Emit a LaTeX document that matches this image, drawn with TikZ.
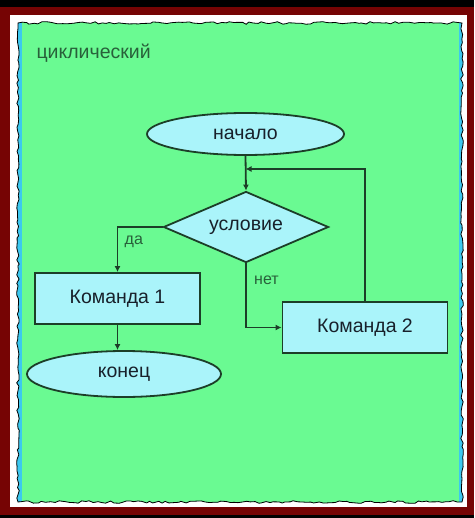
\documentclass[tikz,border=0pt]{standalone}
\usepackage{fontspec}
\setmainfont{Liberation Sans}
\usepackage{tikz}
\usetikzlibrary{calc}
\usetikzlibrary{arrows.meta}
\usetikzlibrary{shapes.geometric}
\usetikzlibrary{decorations.pathmorphing}

\definecolor{frame}{RGB}{118,4,4}
\definecolor{paper}{RGB}{106,250,146}
\definecolor{rim}{RGB}{60,200,240}
\definecolor{block}{RGB}{170,244,250}
\definecolor{wire}{RGB}{28,62,40}
\definecolor{ink}{RGB}{24,32,42}
\definecolor{note}{RGB}{40,96,58}

\tikzset{
  term/.style={ellipse, draw=wire, fill=block, line width=1.8pt, inner sep=0pt,
    text=ink, font=\fontsize{19.5}{22}\selectfont},
  cmd/.style={rectangle, draw=wire, fill=block, line width=1.8pt, inner sep=0pt,
    minimum width=165pt, minimum height=51pt, text=ink, font=\fontsize{19.5}{22}\selectfont},
  cond/.style={diamond, aspect=2.32, draw=wire, fill=block, line width=1.8pt, inner sep=0pt,
    minimum width=165pt, minimum height=71pt, text=ink, font=\fontsize{19.5}{22}\selectfont},
  flow/.style={draw=wire, line width=1.8pt, -{Latex[length=6pt,width=6pt]}},
  tag/.style={text=note, font=\fontsize{16}{18}\selectfont},
  torn/.style={decorate, decoration={random steps, segment length=4pt, amplitude=1.3pt}}
}

\begin{document}
\begin{tikzpicture}[x=1pt,y=-1pt]
  % Boundary
  \path[use as bounding box] (0,0) rectangle (474,518);
  \fill[black] (0,0) rectangle (474,518);
  \fill[frame] (0,7) rectangle (474,515);
  \fill[white] (10,15) rectangle (467,507);
  % Torn sheet
  \pgfmathsetseed{11}
  \fill[rim,torn] (18,23) rectangle (462,502);
  \begin{scope}
    \pgfmathsetseed{11}
    \clip[torn] (18,23) rectangle (462,502);
    \fill[paper] (22,0) rectangle (459,518);
  \end{scope}
  \pgfmathsetseed{11}
  \draw[black,line width=0.8pt,torn] (18,23) rectangle (462,502);
  % Title
  \node[tag, anchor=west, font=\fontsize{19.5}{22}\selectfont] (title) at (33,53) {циклический};
  % Blocks
  \node[term, minimum width=197pt, minimum height=42pt] (start) at (245.5,134) {начало};
  \node[cond] (cond) at (246,227) {условие};
  \node[cmd] (cmdA) at (117.5,298.5) {Команда 1};
  \node[cmd] (cmdB) at (365,327.5) {Команда 2};
  \node[term, minimum width=194pt, minimum height=46pt] (finish) at (124,374) {конец};
  \coordinate (join) at (start.south |- 0,169);
  % Connectors
  \draw[flow] (start.south) -- (cond.north);
  \draw[flow] (cond.west) -| (cmdA.north) node[tag, pos=0.66, anchor=west, xshift=3pt] (yes) {да};
  \draw[flow] (cond.south) |- (cmdB.west) node[tag, pos=0.13, anchor=west, xshift=4pt] (no) {нет};
  \draw[flow] (cmdB.north) |- (join);
  \draw[flow] (cmdA.south) -- (finish.north -| cmdA.south);
\end{tikzpicture}
\end{document}
